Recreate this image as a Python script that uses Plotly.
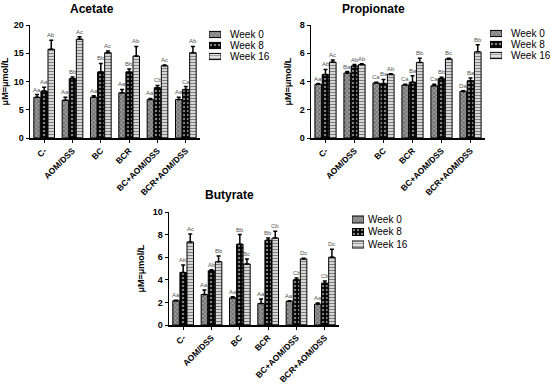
import plotly.graph_objects as go

categories = ["C-", "AOM/DSS", "BC", "BCR", "BC+AOM/DSS", "BCR+AOM/DSS"]
weeks = ["Week 0", "Week 8", "Week 16"]

acetate_mean = [
    [7.2, 6.7, 7.2, 8.0, 6.8, 6.8],
    [8.3, 10.5, 11.7, 11.7, 8.9, 8.6],
    [15.7, 17.5, 15.1, 14.5, 12.8, 15.1],
]
acetate_err = [
    [0.5, 0.5, 0.3, 0.6, 0.2, 0.4],
    [0.7, 0.3, 1.5, 0.5, 0.4, 0.5],
    [1.6, 0.4, 0.3, 1.7, 0.1, 1.1],
]
acetate_lbl = [
    ["Aa", "Aa", "Aa", "Aa", "Aa", "Aa"],
    ["Aa", "Bb", "Bb", "Bb", "Cb", "Ca"],
    ["Ab", "Ac", "Ac", "Ab", "Ac", "Ab"],
]

propionate_mean = [
    [3.8, 4.6, 3.9, 3.75, 3.7, 3.3],
    [4.5, 5.1, 3.85, 3.95, 4.2, 4.05],
    [5.37, 5.2, 4.5, 5.35, 5.6, 6.1],
]
propionate_err = [
    [0.05, 0.1, 0.05, 0.05, 0.1, 0.05],
    [0.35, 0.1, 0.3, 0.45, 0.1, 0.2],
    [0.15, 0.05, 0.05, 0.3, 0.05, 0.5],
]
propionate_lbl = [
    ["Aa", "Ba", "Ca", "Ca", "Ca", "Da"],
    ["Ab", "Ab", "Ba", "Ba", "Bb", "Ba"],
    ["Ac", "Ab", "Ab", "Bb", "Bc", "Bb"],
]

butyrate_mean = [
    [2.15, 2.7, 2.4, 1.9, 2.1, 1.85],
    [4.65, 4.8, 7.15, 7.5, 4.0, 3.7],
    [7.35, 5.6, 5.4, 7.7, 5.85, 6.0],
]
butyrate_err = [
    [0.05, 0.4, 0.1, 0.4, 0.05, 0.1],
    [0.65, 0.1, 0.85, 0.2, 0.15, 0.2],
    [0.7, 0.5, 0.45, 0.6, 0.05, 0.7],
]
butyrate_lbl = [
    ["Aa", "Aa", "Aa", "Aa", "Aa", "Aa"],
    ["Ab", "Ab", "Bb", "Bb", "Cb", "Cb"],
    ["Ac", "Bb", "Bc", "Cb", "Dc", "Dc"],
]

W, H = 550, 385
FONT = "Liberation Sans, Arial, sans-serif"


def fx(px):
    return px / W


def fy(py):
    return 1 - py / H


patterns = [
    dict(shape="x", fgcolor="#1e1e1e", bgcolor="#9a9a9a", size=3, solidity=0.45),
    dict(shape=".", fgcolor="#ffffff", bgcolor="#000000", size=4, solidity=0.3),
    dict(shape="-", fgcolor="#000000", bgcolor="#ffffff", size=3, solidity=0.55),
]

panels = [
    dict(name="Acetate", mean=acetate_mean, err=acetate_err, lbl=acetate_lbl,
         px=(30, 200), py=(25, 138), ymax=20, dtick=5,
         title=(92, 9), leg_x=(209, 221), leg_y=(27, 64), leg_tx=228),
    dict(name="Propionate", mean=propionate_mean, err=propionate_err, lbl=propionate_lbl,
         px=(311, 485), py=(25, 138), ymax=8, dtick=2,
         title=(373, 9), leg_x=(490, 502), leg_y=(26, 63), leg_tx=509),
    dict(name="Butyrate", mean=butyrate_mean, err=butyrate_err, lbl=butyrate_lbl,
         px=(169, 339), py=(212, 325), ymax=10, dtick=2,
         title=(230, 195), leg_x=(352, 364), leg_y=(212, 252), leg_tx=366),
]

BARGAP = 0.25
fig = go.Figure()
layout = dict()
annotations = []

for pi, p in enumerate(panels):
    n = 2 * pi + 1
    sfx = "" if n == 1 else str(n)
    xa, ya = "x" + sfx, "y" + sfx
    for k in range(3):
        fig.add_trace(go.Bar(
            x=categories, y=p["mean"][k], name=weeks[k], showlegend=False,
            xaxis=xa, yaxis=ya,
            marker=dict(color=patterns[k]["bgcolor"], line=dict(color="black", width=1),
                        pattern=patterns[k]),
            error_y=dict(type="data", array=p["err"][k], arrayminus=[0] * 6,
                         symmetric=False, color="black", thickness=1.5, width=2),
        ))
    x0, x1 = p["px"]
    y0, y1 = p["py"]
    layout["xaxis" + sfx] = dict(
        domain=[fx(x0), fx(x1)], anchor=ya, showline=True, linecolor="black", linewidth=1.5,
        ticks="outside", ticklen=3, tickcolor="black", tickangle=-45, automargin=False,
        tickfont=dict(family=FONT, size=8.5, color="black", weight="bold"),
        showgrid=False, zeroline=False, fixedrange=True)
    layout["yaxis" + sfx] = dict(
        domain=[fy(y1), fy(y0)], anchor=xa, range=[0, p["ymax"]], dtick=p["dtick"],
        showline=True, linecolor="black", linewidth=1.5, ticks="outside", ticklen=3,
        automargin=False,
        tickcolor="black", tickfont=dict(family=FONT, size=9, color="black", weight="bold"),
        title=dict(text="μM=μmol/L", font=dict(family=FONT, size=9, color="black", weight="bold"),
                   standoff=6),
        showgrid=False, zeroline=False, fixedrange=True)
    # title
    annotations.append(dict(
        text="<b>%s</b>" % p["name"], xref="paper", yref="paper",
        x=fx(p["title"][0]), y=fy(p["title"][1]), xanchor="center", yanchor="middle",
        showarrow=False, font=dict(family=FONT, size=12, color="black")))
    # letter labels
    group_px = (x1 - x0) / len(categories)
    slot = group_px * (1 - BARGAP) / 3
    for k in range(3):
        for i, c in enumerate(categories):
            annotations.append(dict(
                text=p["lbl"][k][i], xref=xa, yref=ya, x=c,
                y=p["mean"][k][i] + p["err"][k][i], xshift=(k - 1) * slot, yshift=5,
                showarrow=False, font=dict(family=FONT, size=6, color="#555555")))

    # legend (swatches + labels) on a small helper axis
    m = 2 * pi + 2
    lxa, lya = "x" + str(m), "y" + str(m)
    fig.add_trace(go.Bar(
        x=[1, 1, 1], y=weeks, orientation="h", width=0.56, showlegend=False,
        xaxis=lxa, yaxis=lya, hoverinfo="skip",
        marker=dict(color=[pt["bgcolor"] for pt in patterns],
                    line=dict(color="black", width=1),
                    pattern=dict(shape=[pt["shape"] for pt in patterns],
                                 fgcolor=[pt["fgcolor"] for pt in patterns],
                                 bgcolor=[pt["bgcolor"] for pt in patterns],
                                 size=[pt["size"] for pt in patterns],
                                 solidity=[pt["solidity"] for pt in patterns])),
    ))
    lx0, lx1 = p["leg_x"]
    ly0, ly1 = p["leg_y"]
    layout["xaxis" + str(m)] = dict(
        domain=[fx(lx0), fx(lx1)], anchor=lya, range=[0, 1], visible=False,
        automargin=False, fixedrange=True)
    layout["yaxis" + str(m)] = dict(
        domain=[fy(ly1), fy(ly0)], anchor=lxa, autorange="reversed",
        visible=False, automargin=False, fixedrange=True)
    for k, wk in enumerate(weeks):
        annotations.append(dict(
            text=wk, xref="paper", yref=lya, x=fx(p["leg_tx"]), y=wk,
            xanchor="left", yanchor="middle", showarrow=False,
            font=dict(family=FONT, size=10, color="black")))

fig.update_layout(
    width=W, height=H, margin=dict(l=0, r=0, t=0, b=0, pad=0, autoexpand=False),
    paper_bgcolor="white", plot_bgcolor="white",
    barmode="group", bargap=BARGAP, bargroupgap=0.08,
    font=dict(family=FONT), annotations=annotations, showlegend=False, **layout)

fig.write_html(
    "out.html",
    config={"displayModeBar": False, "staticPlot": True},
    post_script="document.body.style.margin='0';document.body.style.overflow='hidden';",
)
